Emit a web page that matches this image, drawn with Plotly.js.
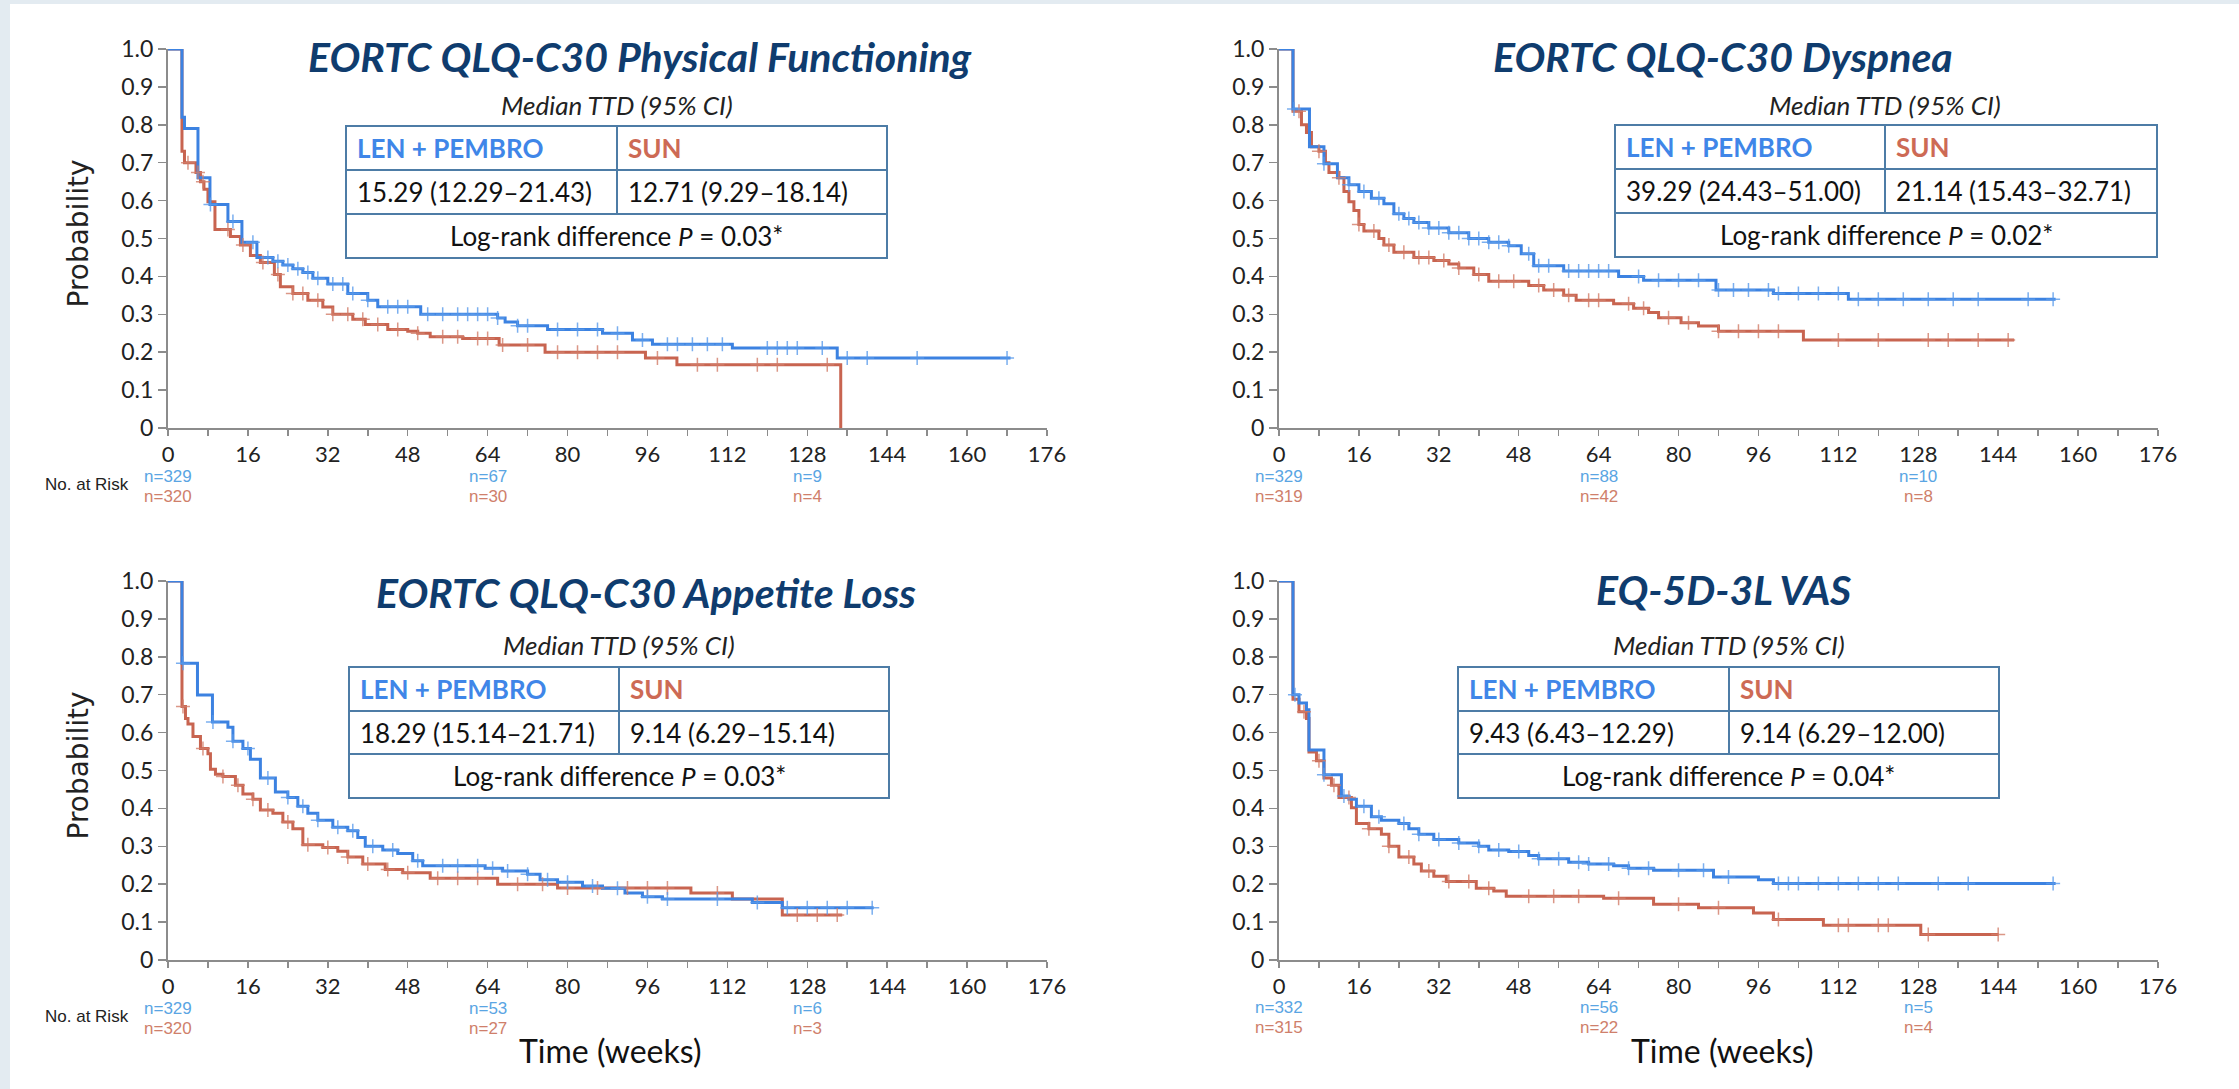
<!DOCTYPE html>
<html>
<head>
<meta charset="utf-8">
<script src="https://cdn.plot.ly/plotly-3.0.1.min.js"></script>
<style>
html,body{margin:0;padding:0;background:#fff;}
#chart{width:2239px;height:1089px;}
</style>
</head>
<body>
<div id="chart"></div>
<script>
// ---------------- DATA ----------------
const xTickVals = [0,8,16,24,32,40,48,56,64,72,80,88,96,104,112,120,128,136,144,152,160,168,176];
const xTickText = ['0','','16','','32','','48','','64','','80','','96','','112','','128','','144','','160','','176'];
const yTickVals = [0,0.1,0.2,0.3,0.4,0.5,0.6,0.7,0.8,0.9,1.0];
const yTickText = ['0','0.1','0.2','0.3','0.4','0.5','0.6','0.7','0.8','0.9','1.0'];

const panelTitles = ['EORTC QLQ-C30 Physical Functioning','EORTC QLQ-C30 Dyspnea','EORTC QLQ-C30 Appetite Loss','EQ-5D-3L VAS'];
const armNames = ['LEN + PEMBRO','SUN'];
const medianBlue = ['15.29 (12.29–21.43)','39.29 (24.43–51.00)','18.29 (15.14–21.71)','9.43 (6.43–12.29)'];
const medianRed  = ['12.71 (9.29–18.14)','21.14 (15.43–32.71)','9.14 (6.29–15.14)','9.14 (6.29–12.00)'];
const logRankP   = ['0.03*','0.02*','0.03*','0.04*'];

const riskTimes = [0,64,128];
const pfRiskBlue = [329,67,9],  pfRiskRed = [320,30,4];
const dyRiskBlue = [329,88,10], dyRiskRed = [319,42,8];
const alRiskBlue = [329,53,6],  alRiskRed = [320,27,3];
const vaRiskBlue = [332,56,5],  vaRiskRed = [315,22,4];

// Physical Functioning
const pfBlueT = [0,2.8,3.3,6,8.4,12,14.8,17.8,21,23,25,27,29,32,36,40,42,50.6,66,67.5,70,76,87,93,97,113,134,168.7];
const pfBlueS = [1,0.82,0.79,0.66,0.59,0.545,0.49,0.45,0.44,0.43,0.42,0.41,0.395,0.38,0.355,0.337,0.32,0.30,0.29,0.28,0.27,0.26,0.25,0.232,0.221,0.211,0.185,0.185];
const pfRedT = [0,2.8,3.3,5.6,6.5,7.2,8,9.4,12.5,14.5,16.5,18.5,21.3,22.5,25,28,31,33,37,39.5,44,48,50,52.5,59,66.3,75.5,95.6,101.9,134.7];
const pfRedS = [1,0.73,0.70,0.674,0.65,0.63,0.597,0.524,0.505,0.483,0.455,0.437,0.405,0.373,0.355,0.337,0.319,0.30,0.287,0.273,0.26,0.255,0.25,0.241,0.236,0.219,0.20,0.185,0.167,0];
const pfBlueCens = [8.5,13,17,20,22,24,26,28,30,33,35,37,40,44,46,48,52,55,58,60,62,64,66,70,72,78,82,86,90,95,100,102,105,108,111,120,122,124,126,131,136,140,150,168];
const pfRedCens = [4,6,7,12,15,19,22,25,27,30,33,36,39,42,46,50,55,58,62,64,67,72,78,82,86,90,98,106,110,118,122,132];

// Dyspnea
const dyBlueT = [0,2.8,6.1,9,11.7,14,16,18.5,21,23,25,27,30,34,38,42,46,48.5,51,57,68,73,87.5,99,114,155.5];
const dyBlueS = [1,0.842,0.742,0.697,0.66,0.642,0.624,0.606,0.592,0.565,0.553,0.542,0.528,0.515,0.50,0.49,0.481,0.46,0.428,0.414,0.40,0.39,0.364,0.355,0.34,0.34];
const dyRedT = [0,2.8,4.5,5.5,6.5,8,9.3,10,12,13,14,15,16,17,20,21,23,27,31,34,36,39,42,50,53,57,59.5,67,71,74,76,80.5,84,88,105,147.2];
const dyRedS = [1,0.836,0.80,0.78,0.742,0.73,0.70,0.674,0.66,0.624,0.597,0.574,0.537,0.52,0.50,0.483,0.464,0.45,0.442,0.433,0.422,0.405,0.387,0.376,0.364,0.35,0.337,0.328,0.316,0.305,0.291,0.278,0.269,0.255,0.232,0.232];
const dyBlueCens = [3,9,14,17,20,24,26,28,30,32,34,36,38,40,42,44,46,50,52,54,58,60,62,64,66,72,76,80,84,88,91,94,98,100,104,108,112,116,120,125,130,135,140,150,155];
const dyRedCens = [4,8,12,16,19,22,25,28,30,33,36,40,44,47,52,55,58,62,64,70,73,78,82,88,92,96,100,112,120,130,134,140,146];

// Appetite Loss
const alBlueT = [0,2.8,5.9,8.9,12,13,15,16.5,18.5,21.5,24,26,28,30,33,36,38,39.5,43,46,49,51,63.5,67,72,74.5,78,83,87,91.5,95,99,117,123,141.3];
const alBlueS = [1,0.783,0.699,0.628,0.614,0.577,0.558,0.53,0.48,0.443,0.429,0.406,0.387,0.369,0.35,0.341,0.323,0.30,0.29,0.281,0.262,0.249,0.242,0.235,0.226,0.212,0.205,0.195,0.189,0.177,0.167,0.161,0.152,0.138,0.138];
const alRedT = [0,2.8,3.5,4,5,6.5,8,8.5,9.5,11,13.5,15,17,18.5,21,23,25,27,31,34,36,39,43.5,47,52.5,66,78,104.7,113,123,135];
const alRedS = [1,0.669,0.637,0.623,0.59,0.558,0.544,0.503,0.49,0.484,0.461,0.438,0.424,0.396,0.387,0.364,0.346,0.304,0.297,0.287,0.272,0.253,0.239,0.23,0.216,0.20,0.19,0.177,0.161,0.119,0.119];
const alBlueCens = [3,9,13,16,20,24,27,30,34,37,41,45,50,55,58,62,65,68,72,76,80,85,90,96,100,110,118,124,128,132,136,141];
const alRedCens = [3,7,11,14,17,20,24,28,32,36,40,44,48,54,58,62,70,75,80,86,92,96,100,110,126,130,134];

// EQ-5D-3L VAS
const vaBlueT = [0,2.8,4,5.5,6,9,12.5,14,15.5,18.5,20.5,24,26,28,31,36,40,42,46,50,52,58,62,67,70,75,87,96,99,155.5];
const vaBlueS = [1,0.70,0.678,0.66,0.554,0.489,0.433,0.424,0.406,0.378,0.369,0.36,0.346,0.332,0.318,0.309,0.30,0.29,0.286,0.276,0.267,0.258,0.253,0.249,0.242,0.237,0.219,0.212,0.202,0.202];
const vaRedT = [0,2.8,4,5.5,6,7.5,9,10.5,12,14.5,15.5,18,20.5,22,24,27,28.5,31,33.5,39.5,43,45.5,65,75,84,95,99,109,128.5,144.1];
const vaRedS = [1,0.688,0.655,0.637,0.549,0.526,0.48,0.461,0.429,0.402,0.36,0.346,0.332,0.30,0.272,0.253,0.235,0.221,0.207,0.189,0.182,0.168,0.163,0.147,0.138,0.124,0.107,0.092,0.067,0.067];
const vaBlueCens = [3.2,9,13,17,20,25,28,32,36,40,44,48,52,56,60,62,66,70,74,80,85,90,100,102,104,108,112,116,120,124,132,138,155];
const vaRedCens = [5,8,11,14,18,22,26,30,34,38,42,50,55,60,68,80,88,100,112,114,120,122,130,144];

// ---------------- LAYOUT HELPERS ----------------
const W = 2239, H = 1089;
const fx = p => p / W;
const fy = p => 1 - p / H;

const BLUE = '#3c82e1', RED = '#c86450';
const BLUE_C = 'rgba(90,155,235,0.8)', RED_C = 'rgba(210,125,105,0.8)';
const AXC = '#8c8c8c';
const NAVY = '#0f3c6e';
const TBL = '#4d7ca6';
const FONT = 'Lato, "Open Sans", sans-serif';
const ARIAL = '"Liberation Sans", Arial, sans-serif';

const panels = [
  {k:'',  px0:168,  px1:1047, py0:49,  py1:428, title:[640,56],  med:[617,105],
   tbl:{x0:346,x1:887,xd:617,y:[126,170,214,258]},
   bT:pfBlueT,bS:pfBlueS,rT:pfRedT,rS:pfRedS,bC:pfBlueCens,rC:pfRedCens,rb:pfRiskBlue,rr:pfRiskRed, ny:[476,496], yTitle:true, xTitle:false},
  {k:'2', px0:1279, px1:2158, py0:49,  py1:428, title:[1723,56], med:[1885,105],
   tbl:{x0:1615,x1:2157,xd:1885,y:[125,169,213,257]},
   bT:dyBlueT,bS:dyBlueS,rT:dyRedT,rS:dyRedS,bC:dyBlueCens,rC:dyRedCens,rb:dyRiskBlue,rr:dyRiskRed, ny:[476,496], yTitle:false, xTitle:false},
  {k:'3', px0:168,  px1:1047, py0:581, py1:960, title:[646,592], med:[619,645],
   tbl:{x0:349,x1:889,xd:619,y:[667,711,754,798]},
   bT:alBlueT,bS:alBlueS,rT:alRedT,rS:alRedS,bC:alBlueCens,rC:alRedCens,rb:alRiskBlue,rr:alRiskRed, ny:[1008,1028], yTitle:true, xTitle:true, xtx:610},
  {k:'4', px0:1279, px1:2158, py0:581, py1:960, title:[1723,589], med:[1729,645],
   tbl:{x0:1458,x1:1999,xd:1729,y:[667,711,754,798]},
   bT:vaBlueT,bS:vaBlueS,rT:vaRedT,rS:vaRedS,bC:vaBlueCens,rC:vaRedCens,rb:vaRiskBlue,rr:vaRiskRed, ny:[1007,1027], yTitle:false, xTitle:true, xtx:1722}
];

function stepAt(T, S, t) {
  let v = S[0];
  for (let i = 0; i < T.length; i++) { if (T[i] <= t) v = S[i]; else break; }
  return v;
}

const traces = [];
const annotations = [];
const shapes = [];
const layout = {
  width: W, height: H,
  margin: {l:0, r:0, t:0, b:0},
  paper_bgcolor: '#ffffff',
  plot_bgcolor: 'rgba(0,0,0,0)',
  showlegend: false,
  font: {family: FONT, color: '#222'}
};

// page border strips
shapes.push({type:'rect', xref:'paper', yref:'paper', x0:0, x1:fx(10), y0:0, y1:1, fillcolor:'#e3ebf1', line:{width:0}, layer:'below'});
shapes.push({type:'rect', xref:'paper', yref:'paper', x0:0, x1:1, y0:fy(4), y1:1, fillcolor:'#e3ebf1', line:{width:0}, layer:'below'});

panels.forEach((p, i) => {
  const xa = 'x' + p.k, ya = 'y' + p.k;
  layout['xaxis' + p.k] = {
    domain: [fx(p.px0), fx(p.px1)], range: [0,176], anchor: ya,
    tickmode:'array', tickvals: xTickVals, ticktext: xTickText,
    ticks:'outside', ticklen:6, tickwidth:1.5, tickcolor:AXC,
    showline:true, linecolor:AXC, linewidth:2, showgrid:false, zeroline:false,
    tickfont:{family:FONT, size:22, color:'#222'}, fixedrange:true
  };
  layout['yaxis' + p.k] = {
    domain: [fy(p.py1), fy(p.py0)], range: [0,1], anchor: xa,
    tickmode:'array', tickvals: yTickVals, ticktext: yTickText,
    ticks:'outside', ticklen:8, tickwidth:1.5, tickcolor:AXC,
    showline:true, linecolor:AXC, linewidth:2, showgrid:false, zeroline:false,
    tickfont:{family:FONT, size:23, color:'#222'}, fixedrange:true
  };

  // curves: red first, blue on top
  traces.push({type:'scatter', mode:'lines', x:p.rT, y:p.rS, xaxis:xa, yaxis:ya,
    line:{shape:'hv', color:RED, width:3}, cliponaxis:false, hoverinfo:'skip'});
  traces.push({type:'scatter', mode:'lines', x:p.bT, y:p.bS, xaxis:xa, yaxis:ya,
    line:{shape:'hv', color:BLUE, width:3}, cliponaxis:false, hoverinfo:'skip'});
  traces.push({type:'scatter', mode:'markers', x:p.rC, y:p.rC.map(t => stepAt(p.rT, p.rS, t)), xaxis:xa, yaxis:ya,
    marker:{symbol:'cross-thin', size:10, color:RED_C, line:{width:1.5, color:RED_C}}, cliponaxis:false, hoverinfo:'skip'});
  traces.push({type:'scatter', mode:'markers', x:p.bC, y:p.bC.map(t => stepAt(p.bT, p.bS, t)), xaxis:xa, yaxis:ya,
    marker:{symbol:'cross-thin', size:10, color:BLUE_C, line:{width:1.5, color:BLUE_C}}, cliponaxis:false, hoverinfo:'skip'});

  // title
  annotations.push({xref:'paper', yref:'paper', x:fx(p.title[0]), y:fy(p.title[1]), xanchor:'center', yanchor:'middle',
    text:'<b><i>' + panelTitles[i] + '</i></b>', showarrow:false, font:{family:FONT, size:41, color:NAVY}});
  // median label
  annotations.push({xref:'paper', yref:'paper', x:fx(p.med[0]), y:fy(p.med[1]), xanchor:'center', yanchor:'middle',
    text:'<i>Median TTD (95% CI)</i>', showarrow:false, font:{family:FONT, size:26, color:'#222'}});

  // table
  const t = p.tbl;
  shapes.push({type:'rect', xref:'paper', yref:'paper', x0:fx(t.x0), x1:fx(t.x1), y0:fy(t.y[3]), y1:fy(t.y[0]),
    line:{color:TBL, width:2}, fillcolor:'rgba(255,255,255,0)'});
  shapes.push({type:'line', xref:'paper', yref:'paper', x0:fx(t.x0), x1:fx(t.x1), y0:fy(t.y[1]), y1:fy(t.y[1]), line:{color:TBL, width:2}});
  shapes.push({type:'line', xref:'paper', yref:'paper', x0:fx(t.x0), x1:fx(t.x1), y0:fy(t.y[2]), y1:fy(t.y[2]), line:{color:TBL, width:2}});
  shapes.push({type:'line', xref:'paper', yref:'paper', x0:fx(t.xd), x1:fx(t.xd), y0:fy(t.y[2]), y1:fy(t.y[0]), line:{color:TBL, width:2}});
  const r1 = (t.y[0]+t.y[1])/2, r2 = (t.y[1]+t.y[2])/2, r3 = (t.y[2]+t.y[3])/2;
  annotations.push({xref:'paper', yref:'paper', x:fx(t.x0+9), y:fy(r1), xanchor:'left', yanchor:'middle',
    text:'<b>' + armNames[0] + '</b>', showarrow:false, font:{family:FONT, size:26, color:'#3f86e8'}});
  annotations.push({xref:'paper', yref:'paper', x:fx(t.xd+9), y:fy(r1), xanchor:'left', yanchor:'middle',
    text:'<b>' + armNames[1] + '</b>', showarrow:false, font:{family:FONT, size:26, color:'#cd6a55'}});
  annotations.push({xref:'paper', yref:'paper', x:fx(t.x0+9), y:fy(r2), xanchor:'left', yanchor:'middle',
    text:medianBlue[i], showarrow:false, font:{family:FONT, size:26, color:'#111'}});
  annotations.push({xref:'paper', yref:'paper', x:fx(t.xd+9), y:fy(r2), xanchor:'left', yanchor:'middle',
    text:medianRed[i], showarrow:false, font:{family:FONT, size:26, color:'#111'}});
  annotations.push({xref:'paper', yref:'paper', x:fx((t.x0+t.x1)/2), y:fy(r3), xanchor:'center', yanchor:'middle',
    text:'Log-rank difference <i>P</i> = ' + logRankP[i], showarrow:false, font:{family:FONT, size:26, color:'#111'}});

  // numbers at risk
  riskTimes.forEach((rt, j) => {
    annotations.push({xref:xa, yref:'paper', x:rt, y:fy(p.ny[0]), xanchor:'center', yanchor:'middle',
      text:'n=' + p.rb[j], showarrow:false, font:{family:ARIAL, size:17, color:'#5aa5e3'}});
    annotations.push({xref:xa, yref:'paper', x:rt, y:fy(p.ny[1]), xanchor:'center', yanchor:'middle',
      text:'n=' + p.rr[j], showarrow:false, font:{family:ARIAL, size:17, color:'#cf7f6b'}});
  });

  if (p.yTitle) {
    annotations.push({xref:'paper', yref:'paper', x:fx(78), y:fy((p.py0+p.py1)/2 - 5), xanchor:'center', yanchor:'middle',
      text:'Probability', textangle:-90, showarrow:false, font:{family:'"DejaVu Sans", sans-serif', size:28, color:'#222'}});
    annotations.push({xref:'paper', yref:'paper', x:fx(131), y:fy((p.ny[0]+p.ny[1])/2 - 2), xanchor:'right', yanchor:'middle',
      text:'No. at Risk', showarrow:false, font:{family:ARIAL, size:17, color:'#222'}});
  }
  if (p.xTitle) {
    annotations.push({xref:'paper', yref:'paper', x:fx(p.xtx), y:fy(1050), xanchor:'center', yanchor:'middle',
      text:'Time (weeks)', showarrow:false, font:{family:FONT, size:32, color:'#111'}});
  }
});

layout.annotations = annotations;
layout.shapes = shapes;

Plotly.newPlot('chart', traces, layout, {staticPlot:true, displayModeBar:false});
</script>
</body>
</html>
